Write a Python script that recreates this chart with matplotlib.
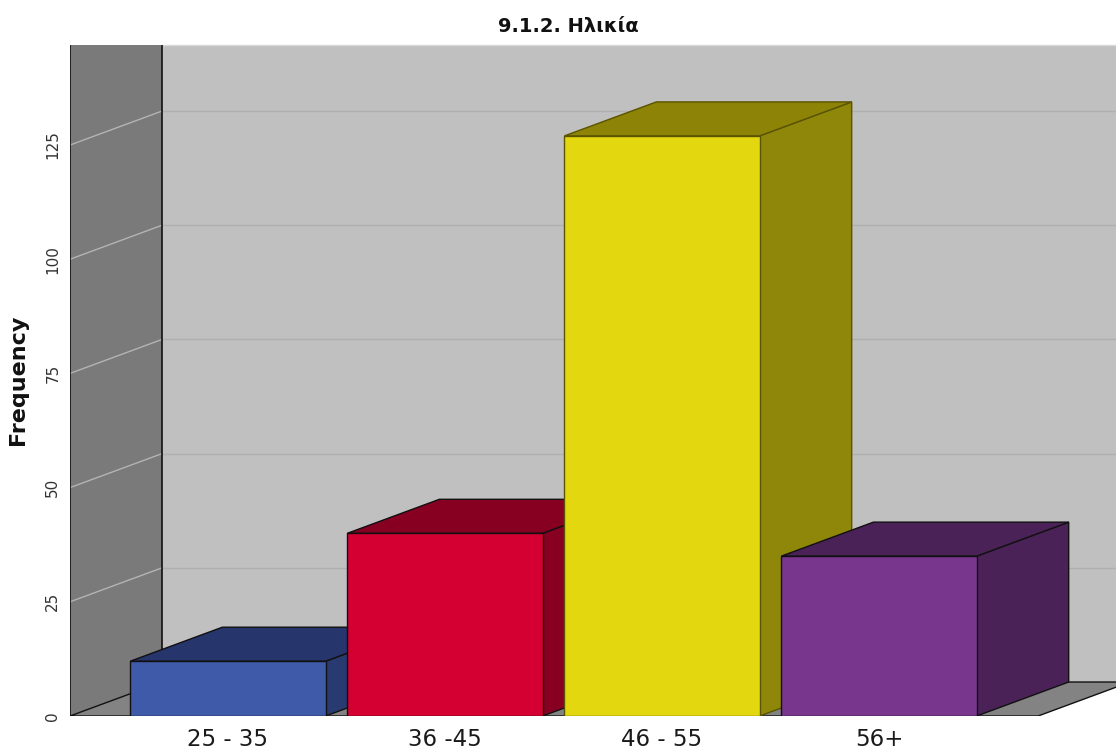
import matplotlib
matplotlib.use("Agg")
import matplotlib.pyplot as plt
from matplotlib.patches import Polygon
from matplotlib import font_manager

# chart data
categories = ["25 - 35", "36 -45", "46 - 55", "56+"]
frequency = [12, 40, 127, 35]
front_colors = ["#3e5aa8", "#d50032", "#e3d70f", "#78368c"]
top_colors = ["#26356b", "#870022", "#8c8307", "#4a2258"]
side_colors = ["#293a70", "#870022", "#8f8709", "#4a2258"]
edge_colors = ["#111111", "#111111", "#5a5300", "#111111"]
y_ticks = [0, 25, 50, 75, 100, 125]
title = "9.1.2. Ηλικία"
y_label = "Frequency"

# fonts: prefer a narrow face if the sandbox has one
names = {f.name for f in font_manager.fontManager.ttflist}
narrow = [f for f in ["Liberation Sans Narrow", "DejaVu Sans Condensed"] if f in names]
font_list = narrow + ["DejaVu Sans"]

# layout of the fake 3d box
W, H, DPI = 1116, 754, 100
bar_w = 0.9
depth_x = 0.424   # category units
depth_y = 7.44    # frequency units
x_left, x_right = -0.728, 4.092
y_top = 146.9
floor_right = 3.733

fig = plt.figure(figsize=(W / DPI, H / DPI), dpi=DPI)
ax = fig.add_axes([70 / W, 38 / H, 1 - 70 / W, (716 - 45) / H])
ax.set_xlim(x_left, x_right)
ax.set_ylim(0, y_top)
for s in ax.spines.values():
    s.set_visible(False)

# walls and floor
back = Polygon([(x_left + depth_x, depth_y), (x_right + 1, depth_y),
                (x_right + 1, y_top), (x_left + depth_x, y_top)],
               closed=True, facecolor="#c0c0c0", edgecolor="none", zorder=0)
ax.add_patch(back)
left_wall = Polygon([(x_left, 0), (x_left + depth_x, depth_y),
                     (x_left + depth_x, y_top), (x_left, y_top)],
                    closed=True, facecolor="#7a7a7a", edgecolor="none", zorder=1)
ax.add_patch(left_wall)
floor = Polygon([(x_left, 0), (floor_right, 0),
                 (floor_right + depth_x, depth_y), (x_left + depth_x, depth_y)],
                closed=True, facecolor="#838383", edgecolor="#111111", lw=1, zorder=1)
ax.add_patch(floor)

# gridlines on back wall and left wall
for v in y_ticks[1:]:
    ax.plot([x_left + depth_x, x_right], [v + depth_y, v + depth_y],
            color="#b0b0b0", lw=1, zorder=0.5)
    ax.plot([x_left, x_left + depth_x], [v, v + depth_y],
            color="#b4b4b4", lw=1, zorder=1.5)

ax.plot([x_left + depth_x, x_right], [y_top, y_top], color="#d8d8d8", lw=1,
        zorder=2, clip_on=False)
ax.plot([x_left, x_left], [0, y_top], color="#111111", lw=1.2, zorder=2)
ax.plot([x_left + depth_x, x_left + depth_x], [depth_y, y_top],
        color="#111111", lw=1.2, zorder=2)

# bars, drawn left to right so each hides its neighbour's side face
for i, v in enumerate(frequency):
    x0, x1 = i - bar_w / 2, i + bar_w / 2
    z = 3 + i
    front = Polygon([(x0, 0), (x1, 0), (x1, v), (x0, v)], closed=True,
                    facecolor=front_colors[i], edgecolor=edge_colors[i], lw=1, zorder=z)
    top = Polygon([(x0, v), (x1, v), (x1 + depth_x, v + depth_y), (x0 + depth_x, v + depth_y)],
                  closed=True, facecolor=top_colors[i], edgecolor=edge_colors[i], lw=1, zorder=z)
    side = Polygon([(x1, 0), (x1 + depth_x, depth_y), (x1 + depth_x, v + depth_y), (x1, v)],
                   closed=True, facecolor=side_colors[i], edgecolor=edge_colors[i], lw=1, zorder=z)
    ax.add_patch(side)
    ax.add_patch(top)
    ax.add_patch(front)

# ticks
ax.set_xticks(range(len(categories)))
ax.set_xticklabels(categories, fontsize=16.5, family=font_list, color="#1a1a1a")
ax.tick_params(axis="x", length=0, pad=9)
ax.set_yticks(y_ticks)
ax.set_yticklabels([str(t) for t in y_ticks], rotation=90, fontsize=11,
                   family="DejaVu Sans", color="#333333", va="center")
ax.tick_params(axis="y", length=0, pad=7)

fig.text(18 / W, 1 - 380 / H, y_label, rotation=90, ha="center", va="center",
         fontsize=16, fontweight="bold", family="DejaVu Sans", color="#111111")
fig.text(568 / W, 1 - 27 / H, title, ha="center", va="center",
         fontsize=14, fontweight="bold", family=font_list, color="#111111")

fig.savefig("out.png", dpi=DPI)
